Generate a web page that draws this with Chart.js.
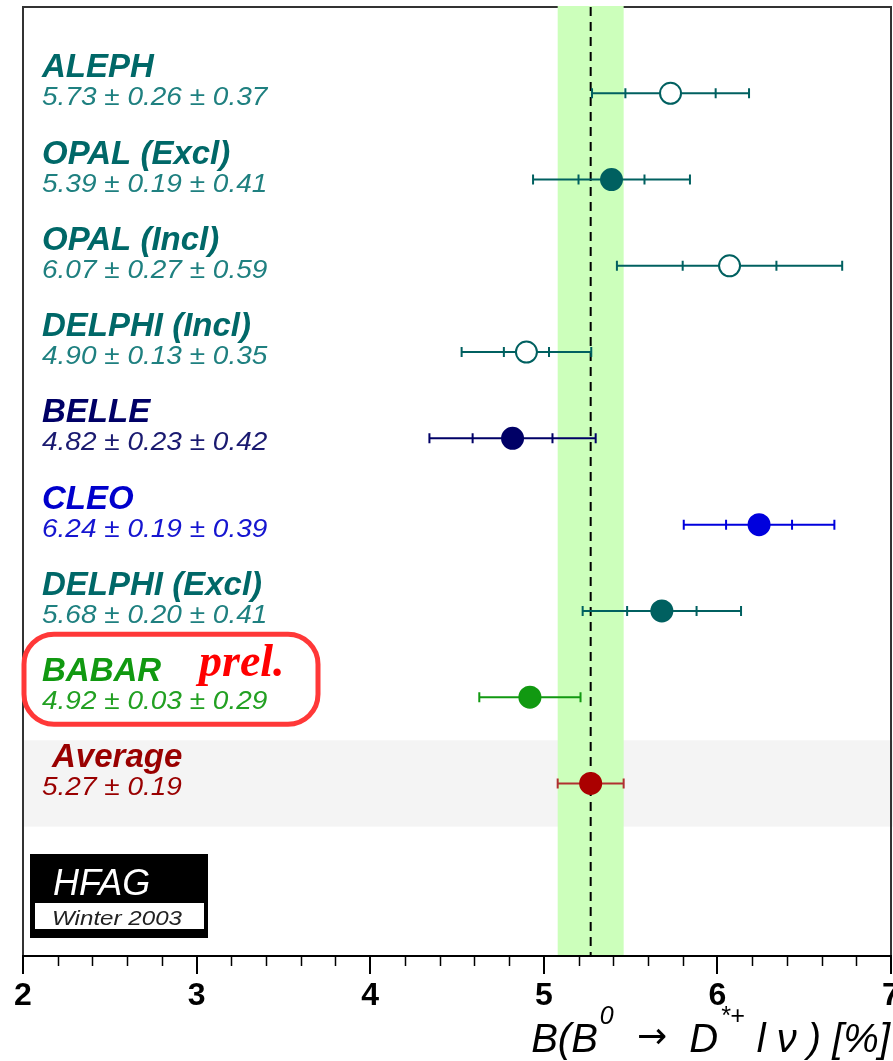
<!DOCTYPE html>
<html><head><meta charset="utf-8">
<script src="https://cdn.jsdelivr.net/npm/chart.js@4"></script>
<style>html,body{margin:0;padding:0;background:#fff;overflow:hidden}#wrap{width:893px;height:1061px;position:relative}canvas{display:block}</style>
</head><body><div id="wrap"><canvas id="c" width="893" height="1061"></canvas></div>
<script>
// ---- data ----
const experiments = ['ALEPH', 'OPAL (Excl)', 'OPAL (Incl)', 'DELPHI (Incl)', 'BELLE', 'CLEO', 'DELPHI (Excl)', 'BABAR'];
const values  = [5.73, 5.39, 6.07, 4.90, 4.82, 6.24, 5.68, 4.92];
const statErr = [0.26, 0.19, 0.27, 0.13, 0.23, 0.19, 0.20, 0.03];
const systErr = [0.37, 0.41, 0.59, 0.35, 0.42, 0.39, 0.41, 0.29];
const hollow  = [true, false, true, true, false, false, false, false];
const avgLabel = 'Average';
const avgValue = 5.27;
const avgErr = 0.19;
const xMin = 2, xMax = 7, xStep = 1, xMinorStep = 0.2;
const prelimLabel = 'prel.';
const logoTitle = 'HFAG';
const logoSub = 'Winter 2003';
// [text, kind]  kind: 'm' main, 's' superscript, 'a' arrow
const axisTitleParts = [['B(B', 'm'], ['0', 's'], ['  ', 'm'], ['\u2192', 'a'], ['  D', 'm'], ['*+', 's'], [' l \u03bd ) [%]', 'm']];

// ---- styles ----
const nameColors  = ['#006868', '#006868', '#006868', '#006868', '#000066', '#0000cc', '#006868', '#119911'];
const valueColors = ['#1f8080', '#1f8080', '#1f8080', '#1f8080', '#1a1a70', '#1515d0', '#1f8080', '#22a022'];
const markColors  = ['#006060', '#006060', '#006060', '#006060', '#000066', '#0000dd', '#006060', '#119911'];
const avgColor = '#990000', avgMark = '#aa0000', avgBar = '#b03030';
const SANS = '"Liberation Sans", Arial, Helvetica, sans-serif';
const SERIF = '"Liberation Serif", "Times New Roman", serif';

const nRows = experiments.length;
const avgRow = nRows + 1;

function totErr(i) { return Math.sqrt(statErr[i] * statErr[i] + systErr[i] * systErr[i]); }
function fmt(v) { return v.toFixed(2); }

const deco = {
  id: 'deco',
  beforeDraw(chart) {
    const { ctx, chartArea: a, scales: { x, y } } = chart;
    ctx.save();
    ctx.fillStyle = '#fff';
    ctx.fillRect(0, 0, chart.width, chart.height);
    // average band
    const yb1 = y.getPixelForValue(avgRow - 0.5), yb2 = y.getPixelForValue(avgRow + 0.5);
    ctx.fillStyle = '#f4f4f4';
    ctx.fillRect(a.left, yb1, chart.width - a.left, yb2 - yb1);
    // frame
    ctx.strokeStyle = '#333';
    ctx.lineWidth = 2;
    ctx.beginPath();
    ctx.moveTo(a.left, a.bottom); ctx.lineTo(a.left, a.top); ctx.lineTo(a.right, a.top); ctx.lineTo(a.right, a.bottom);
    ctx.stroke();
    // green band
    const x1 = x.getPixelForValue(avgValue - avgErr), x2 = x.getPixelForValue(avgValue + avgErr);
    ctx.fillStyle = '#ccffbb';
    ctx.fillRect(x1, a.top - 1, x2 - x1, a.bottom - a.top + 1);
    // dashed average line
    const xa = x.getPixelForValue(avgValue);
    ctx.strokeStyle = '#000';
    ctx.setLineDash([9, 6]);
    ctx.beginPath(); ctx.moveTo(xa, a.top); ctx.lineTo(xa, a.bottom); ctx.stroke();
    ctx.setLineDash([]);
    ctx.restore();
  },
  beforeDatasetsDraw(chart) {
    const { ctx, scales: { x, y } } = chart;
    ctx.save();
    ctx.lineWidth = 2;
    const bar = (v, s, t, row, col) => {
      const py = y.getPixelForValue(row);
      ctx.strokeStyle = col;
      ctx.beginPath();
      ctx.moveTo(x.getPixelForValue(v - t), py); ctx.lineTo(x.getPixelForValue(v + t), py);
      const ends = [v - t, v + t];
      if (s !== null) ends.push(v - s, v + s);
      ends.forEach(e => { const px = x.getPixelForValue(e); ctx.moveTo(px, py - 5); ctx.lineTo(px, py + 5); });
      ctx.stroke();
    };
    for (let i = 0; i < nRows; i++) bar(values[i], statErr[i], totErr(i), i + 1, markColors[i]);
    bar(avgValue, null, avgErr, avgRow, avgBar);
    ctx.restore();
  },
  afterDraw(chart) {
    const { ctx, chartArea: a, scales: { x, y } } = chart;
    ctx.save();
    // minor ticks
    ctx.strokeStyle = '#000';
    ctx.lineWidth = 1.5;
    ctx.beginPath();
    for (let v = xMin; v <= xMax + 1e-9; v += xMinorStep) {
      const r = Math.abs(v - Math.round(v));
      if (r < 1e-6) continue;
      const px = Math.round(x.getPixelForValue(v)) + 0.5;
      ctx.moveTo(px, a.bottom); ctx.lineTo(px, a.bottom + 10);
    }
    ctx.stroke();

    // labels
    const lx = a.left + 19;
    const drawVal = (txt, col, py) => {
      ctx.save();
      ctx.font = 'italic 25px ' + SANS;
      ctx.fillStyle = col;
      ctx.translate(lx, py);
      ctx.scale(1.12, 1);
      ctx.fillText(txt, 0, 0);
      ctx.restore();
    };
    ctx.textBaseline = 'alphabetic';
    ctx.textAlign = 'left';
    for (let i = 0; i < nRows; i++) {
      const py = y.getPixelForValue(i + 1);
      ctx.font = 'italic bold 33px ' + SANS;
      ctx.fillStyle = nameColors[i];
      ctx.fillText(experiments[i], lx, py - 16);
      drawVal(fmt(values[i]) + ' \u00b1 ' + fmt(statErr[i]) + ' \u00b1 ' + fmt(systErr[i]), valueColors[i], py + 12);
    }
    const pa = y.getPixelForValue(avgRow);
    ctx.font = 'italic bold 33px ' + SANS;
    ctx.fillStyle = avgColor;
    ctx.fillText(avgLabel, lx + 10, pa - 16);
    drawVal(fmt(avgValue) + ' \u00b1 ' + fmt(avgErr), avgColor, pa + 12);

    // preliminary box around last experiment
    const pb = y.getPixelForValue(nRows);
    ctx.strokeStyle = '#ff3838';
    ctx.lineWidth = 5;
    ctx.beginPath();
    ctx.roundRect(a.left + 1, pb - 63, 294, 90, 30);
    ctx.stroke();
    ctx.font = 'italic bold 46px ' + SERIF;
    ctx.fillStyle = '#ff0000';
    ctx.fillText(prelimLabel, 199, pb - 21);

    // HFAG logo
    ctx.fillStyle = '#000';
    ctx.fillRect(30, 854, 178, 84);
    ctx.fillStyle = '#fff';
    ctx.fillRect(35, 903, 169, 26);
    ctx.font = 'italic 36px ' + SANS;
    ctx.fillText(logoTitle, 53, 895);
    ctx.save();
    ctx.font = 'italic 21px ' + SANS;
    ctx.fillStyle = '#222';
    ctx.translate(52, 925);
    ctx.scale(1.15, 1);
    ctx.fillText(logoSub, 0, 0);
    ctx.restore();

    // axis title
    const fonts = { m: 'italic 40px ' + SANS, s: 'italic 25px ' + SANS, a: '36px "DejaVu Sans", sans-serif' };
    const dy = { m: 0, s: -28, a: -4 };
    let w = 0;
    axisTitleParts.forEach(([t, k]) => { ctx.font = fonts[k]; w += ctx.measureText(t).width + (k === 's' ? 3 : 0); });
    let cx = a.right - 1 - w;
    const base = 1052;
    ctx.fillStyle = '#000';
    axisTitleParts.forEach(([t, k]) => {
      ctx.font = fonts[k];
      ctx.fillText(t, cx + (k === 's' ? 2 : 0), base + dy[k]);
      cx += ctx.measureText(t).width + (k === 's' ? 3 : 0);
    });
    ctx.restore();
  }
};

const points = values.map((v, i) => ({ x: v, y: i + 1 }));
points.push({ x: avgValue, y: avgRow });

new Chart(document.getElementById('c'), {
  type: 'scatter',
  data: {
    datasets: [{
      data: points,
      pointStyle: 'circle',
      pointRadius: 10.5,
      pointBorderWidth: 2,
      backgroundColor: values.map((v, i) => hollow[i] ? '#ffffff' : markColors[i]).concat([avgMark]),
      borderColor: markColors.concat([avgMark]),
      clip: false
    }]
  },
  plugins: [deco],
  options: {
    responsive: false,
    animation: false,
    devicePixelRatio: 1,
    layout: { autoPadding: false, padding: { left: 23, right: 2, top: 7, bottom: 45 } },
    plugins: { legend: { display: false }, tooltip: { enabled: false } },
    scales: {
      x: {
        type: 'linear', min: xMin, max: xMax,
        grid: { display: true, drawOnChartArea: false, drawTicks: true, tickLength: 18, color: '#000', lineWidth: 2 },
        border: { display: true, color: '#000', width: 2 },
        ticks: { stepSize: xStep, color: '#000', font: { family: SANS, size: 32, weight: 'bold' }, padding: 3, maxRotation: 0 },
        afterFit(s) { s.height = 60; s.paddingLeft = 0; s.paddingRight = 0; }
      },
      y: { type: 'linear', min: 0, max: nRows + 3, reverse: true, display: false }
    }
  }
});
</script>
</body></html>
